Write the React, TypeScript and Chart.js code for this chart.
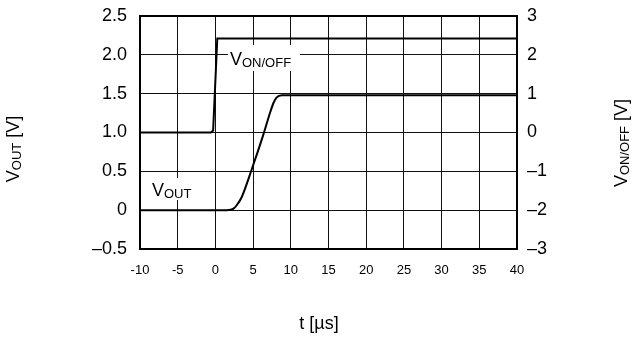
import React, { useEffect, useRef } from "react";
import { Chart, registerables } from "chart.js";

Chart.register(...registerables);

// X axis (time, µs)
const xTickLabels = ["-10", "-5", "0", "5", "10", "15", "20", "25", "30", "35", "40"];
// Left axis (VOUT, V)
const leftTickLabels = ["–0.5", "0", "0.5", "1.0", "1.5", "2.0", "2.5"];
// Right axis (VON/OFF, V)
const rightTickLabels = ["–3", "–2", "–1", "0", "1", "2", "3"];

// VOUT trace
const voutTime = [-10, 1.5, 2.0, 2.4, 2.8, 3.5, 4.8, 6.35, 7.3, 7.7, 8.1, 8.8, 40];
const voutValue = [0, 0, 0.005, 0.02, 0.06, 0.17, 0.52, 0.97, 1.27, 1.38, 1.45, 1.48, 1.48];

// VON/OFF trace
const vonTime = [-10, -0.6, -0.3, 0.25, 40];
const vonValue = [0, 0, 0.05, 2.42, 2.42];

const FONT = '"Liberation Sans", Arial, Helvetica, sans-serif';

function drawSubText(
  ctx: CanvasRenderingContext2D,
  x: number,
  y: number,
  main: string,
  sub: string,
  tail: string,
  mainSize: number,
  subSize: number,
  align: "left" | "center"
) {
  ctx.font = `${mainSize}px ${FONT}`;
  const wMain = ctx.measureText(main).width;
  const wTail = tail ? ctx.measureText(tail).width : 0;
  ctx.font = `${subSize}px ${FONT}`;
  const wSub = ctx.measureText(sub).width;
  const total = wMain + wSub + wTail;
  let sx = align === "center" ? x - total / 2 : x;
  ctx.textBaseline = "alphabetic";
  ctx.textAlign = "left";
  ctx.fillStyle = "#000";
  ctx.font = `${mainSize}px ${FONT}`;
  ctx.fillText(main, sx, y);
  sx += wMain;
  ctx.font = `${subSize}px ${FONT}`;
  ctx.fillText(sub, sx, y + 2);
  sx += wSub;
  if (tail) {
    ctx.font = `${mainSize}px ${FONT}`;
    ctx.fillText(tail, sx, y);
  }
  return total;
}

const overlayPlugin = {
  id: "overlay",
  afterDraw(chart: any) {
    const ctx: CanvasRenderingContext2D = chart.ctx;
    const a = chart.chartArea;
    ctx.save();
    // frame
    ctx.strokeStyle = "#000";
    ctx.lineWidth = 2;
    ctx.strokeRect(a.left, a.top, a.right - a.left, a.bottom - a.top);

    // in-plot labels with white background
    ctx.fillStyle = "#fff";
    ctx.fillRect(228, 45, 72, 26);
    drawSubText(ctx, 230, 65, "V", "ON/OFF", "", 18, 13, "left");
    ctx.fillStyle = "#fff";
    ctx.fillRect(150, 178, 46, 22);
    drawSubText(ctx, 152, 196, "V", "OUT", "", 18, 13, "left");

    // axis titles
    ctx.save();
    ctx.translate(19, 149);
    ctx.rotate(-Math.PI / 2);
    drawSubText(ctx, 0, 0, "V", "OUT", " [V]", 18, 13, "center");
    ctx.restore();

    ctx.save();
    ctx.translate(627, 143);
    ctx.rotate(-Math.PI / 2);
    drawSubText(ctx, 0, 0, "V", "ON/OFF", " [V]", 18, 13, "center");
    ctx.restore();

    ctx.font = `18px ${FONT}`;
    ctx.fillStyle = "#000";
    ctx.textAlign = "center";
    ctx.textBaseline = "alphabetic";
    ctx.fillText("t [µs]", 319, 329);
    ctx.restore();
  },
};

export default function App() {
  const ref = useRef<HTMLCanvasElement>(null);
  useEffect(() => {
    document.body.style.margin = "0";
    const canvas = ref.current;
    if (!canvas) return;
    const chart = new Chart(canvas, {
      type: "line",
      data: {
        datasets: [
          {
            label: "VOUT",
            data: voutTime.map((t, i) => ({ x: t, y: voutValue[i] })),
            borderColor: "#000",
            borderWidth: 2,
            pointRadius: 0,
            cubicInterpolationMode: "monotone",
            yAxisID: "y",
          },
          {
            label: "VON/OFF",
            data: vonTime.map((t, i) => ({ x: t, y: vonValue[i] })),
            borderColor: "#000",
            borderWidth: 2,
            pointRadius: 0,
            tension: 0,
            yAxisID: "y2",
          },
        ],
      },
      options: {
        responsive: false,
        animation: false,
        layout: { padding: { top: 16, left: 0, right: 0, bottom: 0 } },
        plugins: {
          legend: { display: false },
          tooltip: { enabled: false },
        },
        scales: {
          x: {
            type: "linear",
            min: -10,
            max: 40,
            afterFit: (s: any) => {
              s.height = 91;
              s.paddingLeft = 0;
              s.paddingRight = 0;
            },
            ticks: {
              stepSize: 5,
              padding: 14,
              color: "#000",
              font: { family: FONT, size: 13 },
              maxRotation: 0,
              callback: (_v: any, i: number) => xTickLabels[i],
            },
            grid: { color: "#111", lineWidth: 1, drawTicks: false },
            border: { display: false },
          },
          y: {
            type: "linear",
            position: "left",
            min: -0.5,
            max: 2.5,
            afterFit: (s: any) => {
              s.width = 140;
              s.paddingTop = 0;
              s.paddingBottom = 0;
            },
            ticks: {
              stepSize: 0.5,
              padding: 13,
              color: "#000",
              font: { family: FONT, size: 18 },
              callback: (_v: any, i: number) => leftTickLabels[i],
            },
            grid: { color: "#111", lineWidth: 1, drawTicks: false },
            border: { display: false },
          },
          y2: {
            type: "linear",
            position: "right",
            min: -3,
            max: 3,
            afterFit: (s: any) => {
              s.width = 118;
              s.paddingTop = 0;
              s.paddingBottom = 0;
            },
            ticks: {
              stepSize: 1,
              padding: 10,
              color: "#000",
              font: { family: FONT, size: 18 },
              callback: (_v: any, i: number) => rightTickLabels[i],
            },
            grid: { display: false, drawTicks: false },
            border: { display: false },
          },
        },
      },
      plugins: [overlayPlugin],
    } as any);
    return () => chart.destroy();
  }, []);
  return <canvas ref={ref} width={635} height={340} style={{ display: "block" }} />;
}
